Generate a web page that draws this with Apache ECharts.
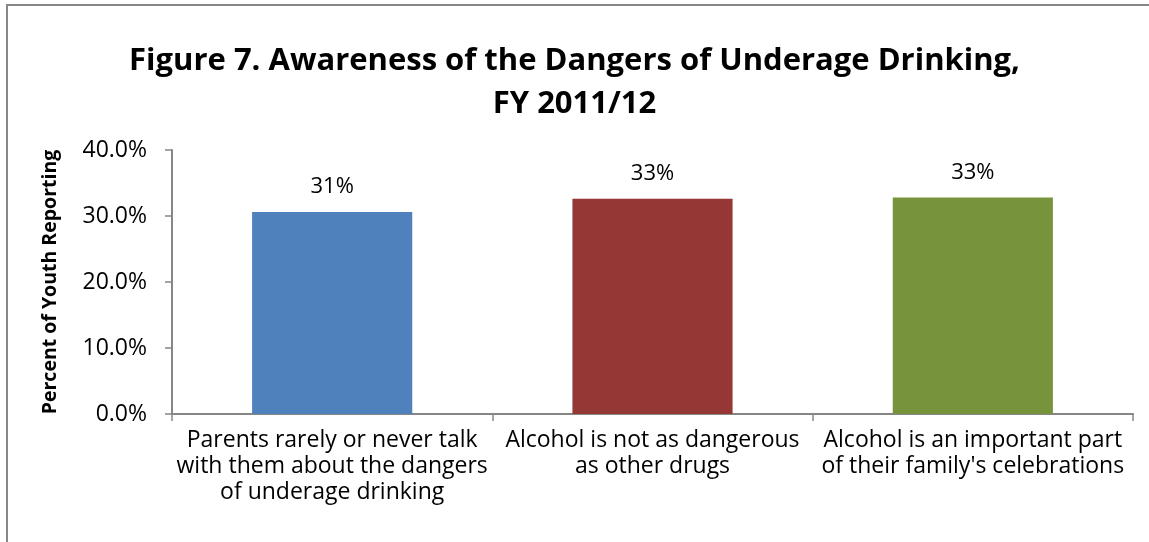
<!DOCTYPE html>
<html>
<head>
<meta charset="utf-8">
<script src="https://cdn.jsdelivr.net/npm/echarts@6/dist/echarts.min.js"></script>
<style>
  html, body { margin: 0; padding: 0; background: #fff; }
  #chart { width: 1149px; height: 542px; }
</style>
</head>
<body>
<div id="chart"></div>
<script>
// Survey items shown along the x axis
const categories = [
  "Parents rarely or never talk\nwith them about the dangers\nof underage drinking",
  "Alcohol is not as dangerous\nas other drugs",
  "Alcohol is an important part\nof their family's celebrations"
];
// Percent of youth reporting each item
const values = [30.6, 32.6, 32.8];
// Bar fill per category
const barColors = ["#4F81BD", "#953735", "#77933C"];

const FONT = "'Open Sans', sans-serif";

const chart = echarts.init(document.getElementById("chart"), null, { renderer: "canvas" });

chart.setOption({
  animation: false,
  backgroundColor: "#ffffff",
  title: {
    text: "Figure 7. Awareness of the Dangers of Underage Drinking,\nFY 2011/12",
    left: "center",
    top: 35,
    textStyle: {
      fontFamily: FONT,
      fontWeight: "bold",
      fontSize: 31,
      lineHeight: 43,
      color: "#000"
    }
  },
  graphic: [{
    type: "rect",
    shape: { x: 7, y: 5, width: 1160, height: 560 },
    style: { fill: "none", stroke: "#878787", lineWidth: 2 },
    silent: true
  }],
  grid: { left: 172, right: 16, top: 150, bottom: 128 },
  xAxis: {
    type: "category",
    data: categories,
    axisLine: { lineStyle: { color: "#868686", width: 2 } },
    axisTick: { show: true, length: 7, alignWithLabel: false, lineStyle: { color: "#868686", width: 1.5 } },
    axisLabel: {
      interval: 0,
      margin: 13,
      fontFamily: FONT,
      fontSize: 23,
      lineHeight: 26,
      color: "#000"
    }
  },
  yAxis: {
    type: "value",
    min: 0,
    max: 40,
    interval: 10,
    name: "Percent of Youth Reporting",
    nameLocation: "middle",
    nameGap: 112,
    nameRotate: 90,
    nameTextStyle: {
      fontFamily: FONT,
      fontWeight: "bold",
      fontSize: 19.5,
      color: "#000"
    },
    axisLine: { show: true, lineStyle: { color: "#868686", width: 2 } },
    axisTick: { show: true, length: 7, lineStyle: { color: "#868686", width: 1.5 } },
    splitLine: { show: false },
    axisLabel: {
      margin: 25,
      fontFamily: FONT,
      fontSize: 23,
      color: "#000",
      formatter: v => v.toFixed(1) + "%"
    }
  },
  series: [{
    type: "bar",
    barWidth: "50%",
    data: values.map((v, i) => ({ value: v, itemStyle: { color: barColors[i] } })),
    label: {
      show: true,
      position: "top",
      distance: 14,
      fontFamily: FONT,
      fontSize: 22,
      color: "#000",
      formatter: p => Math.round(p.value) + "%"
    }
  }]
});
</script>
</body>
</html>
